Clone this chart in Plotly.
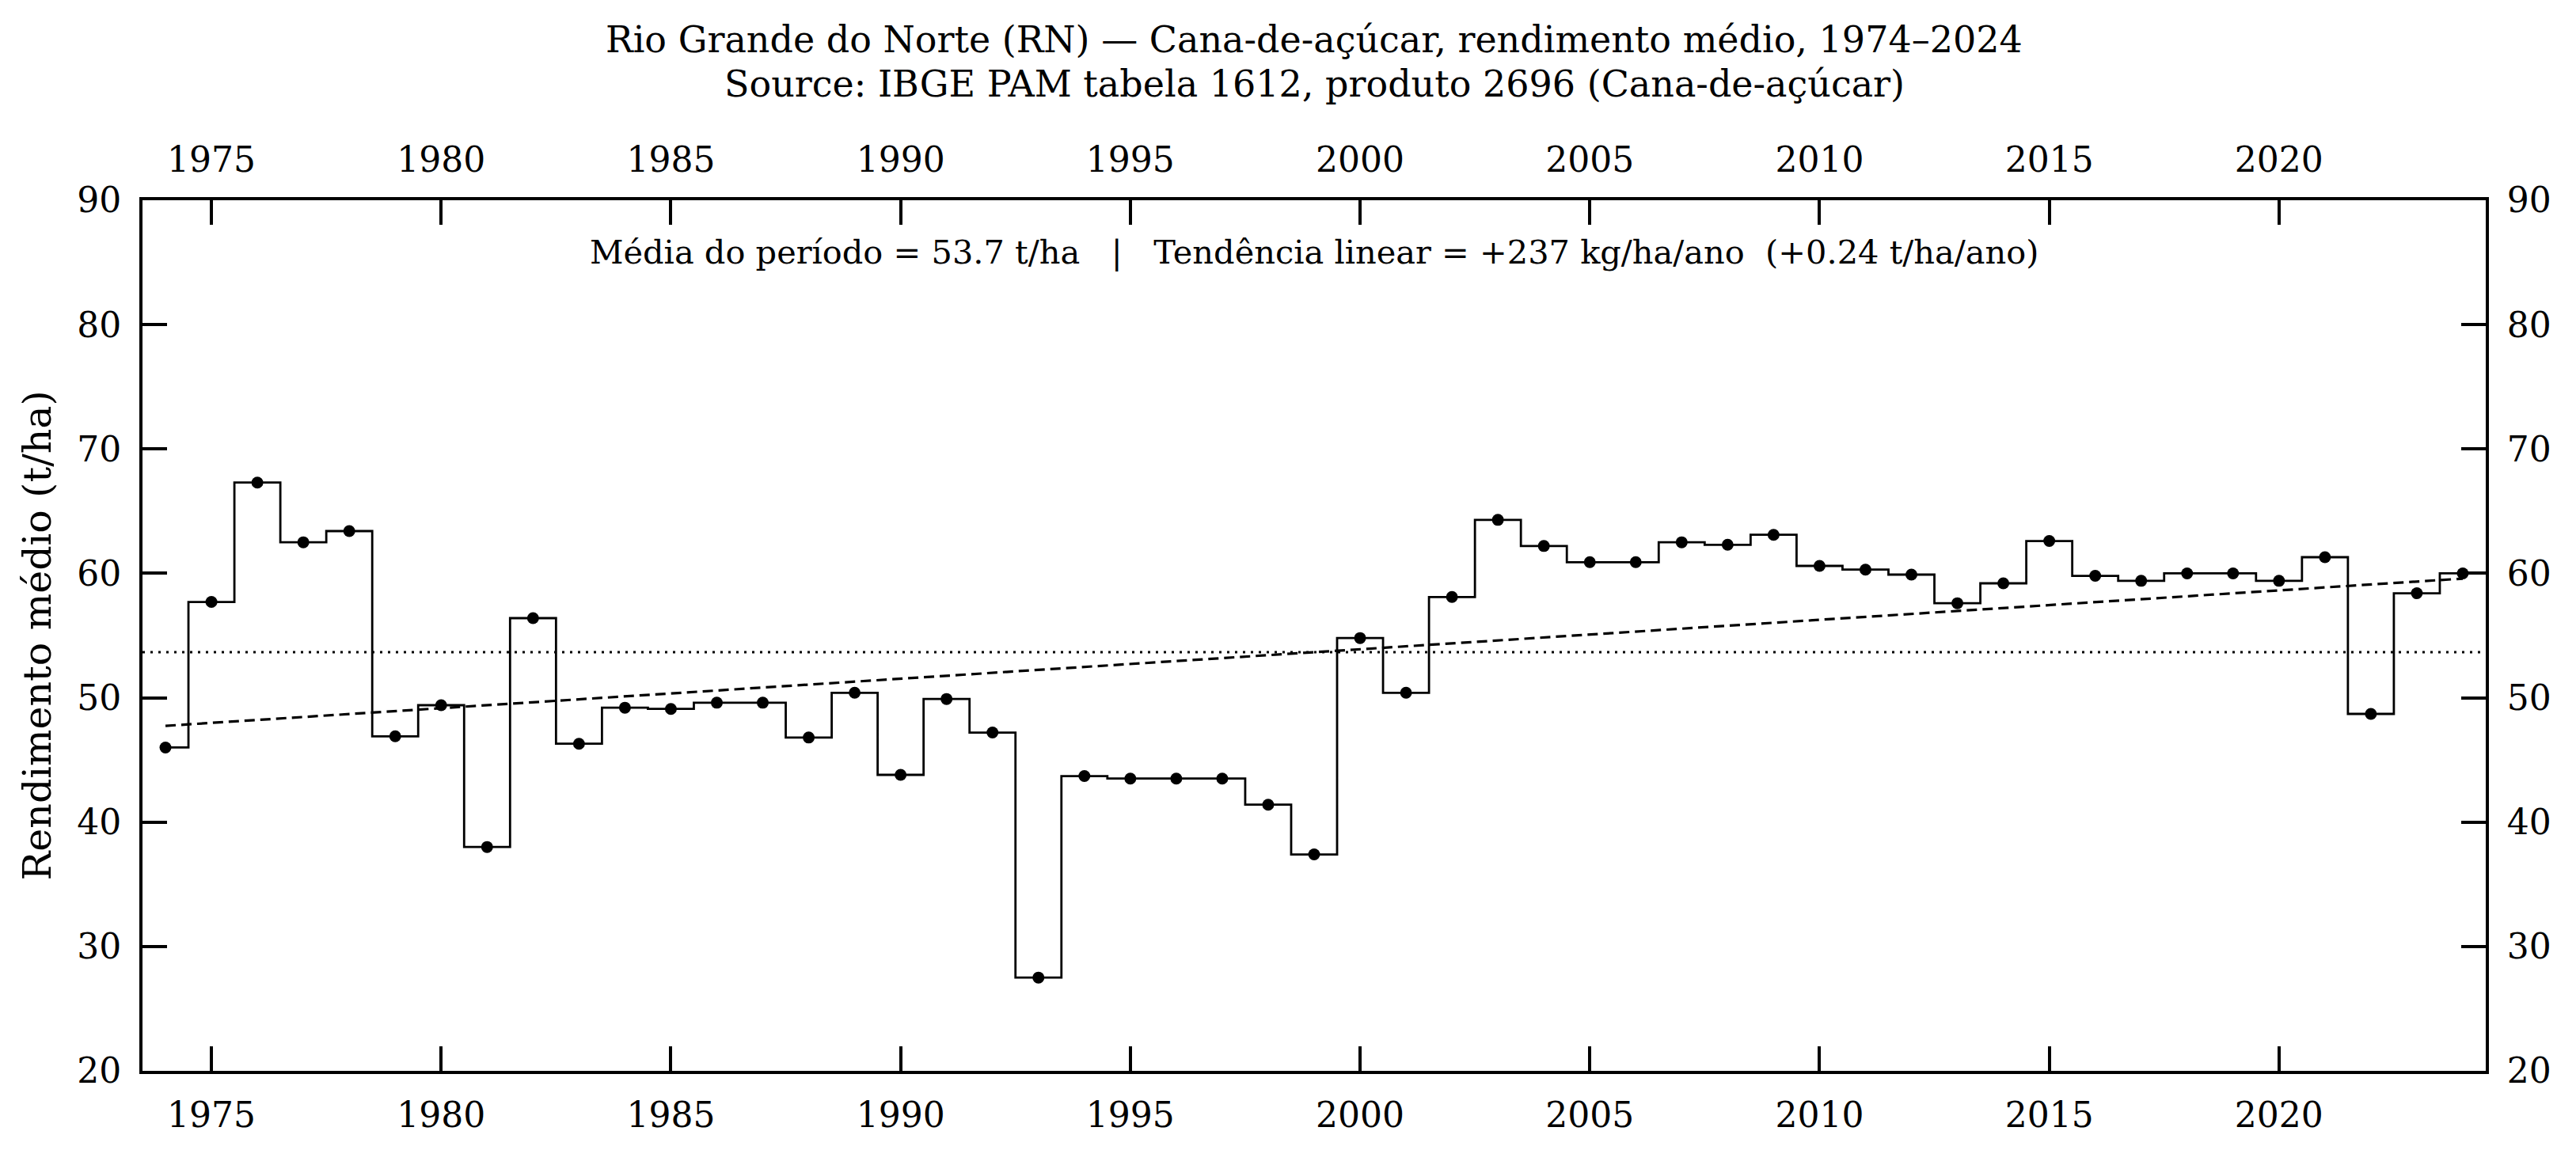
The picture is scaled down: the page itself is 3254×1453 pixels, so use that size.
import numpy as np
import plotly.graph_objects as go

years = list(range(1974, 2025))
rendimento = [
    46.0, 57.7, 67.3, 62.5, 63.4, 46.9, 49.4, 38.0, 56.4, 46.3,
    49.2, 49.1, 49.6, 49.6, 46.8, 50.4, 43.8, 49.9, 47.2, 27.5,
    43.7, 43.5, 43.5, 43.5, 41.4, 37.4, 54.8, 50.4, 58.1, 64.3,
    62.2, 60.9, 60.9, 62.5, 62.3, 63.1, 60.6, 60.3, 59.9, 57.6,
    59.2, 62.6, 59.8, 59.4, 60.0, 60.0, 59.4, 61.3, 48.7, 58.4, 60.0,
]
x_ticks = [1975, 1980, 1985, 1990, 1995, 2000, 2005, 2010, 2015, 2020]
y_ticks = [20, 30, 40, 50, 60, 70, 80, 90]

title_1 = "Rio Grande do Norte (RN) — Cana-de-açúcar, rendimento médio, 1974–2024"
title_2 = "Source: IBGE PAM tabela 1612, produto 2696 (Cana-de-açúcar)"
stats_text = "Média do período = 53.7 t/ha   |   Tendência linear = +237 kg/ha/ano  (+0.24 t/ha/ano)"
y_label = "Rendimento médio (t/ha)"

xa = np.array(years, dtype=float)
ya = np.array(rendimento, dtype=float)
mean_val = ya.mean()
slope, intercept = np.polyfit(xa, ya, 1)
trend = slope * xa + intercept

FONT = "DejaVu Serif"
X_RANGE = [1973.5, 2024.5]
Y_RANGE = [20, 90]

fig = go.Figure()

fig.add_trace(go.Scatter(
    x=[X_RANGE[0], X_RANGE[1]], y=[mean_val, mean_val], mode="lines",
    line=dict(color="black", width=3, dash="3px,7px"), showlegend=False, hoverinfo="skip"))
fig.add_trace(go.Scatter(
    x=years, y=trend, mode="lines",
    line=dict(color="black", width=3.2, dash="13px,7px"), showlegend=False, hoverinfo="skip"))
fig.add_trace(go.Scatter(
    x=years, y=rendimento, mode="lines", line_shape="hvh",
    line=dict(color="black", width=2.8), showlegend=False))
fig.add_trace(go.Scatter(
    x=years, y=rendimento, mode="markers",
    marker=dict(color="black", size=15), showlegend=False))

# ghost traces for top / right axes
fig.add_trace(go.Scatter(x=X_RANGE, y=Y_RANGE, xaxis="x2", yaxis="y2", mode="markers",
                         marker=dict(opacity=0), showlegend=False, hoverinfo="skip"))

axis_common = dict(
    showgrid=False, zeroline=False, showline=True, linecolor="black", linewidth=4,
    ticks="inside", ticklen=31, tickwidth=3.5, tickcolor="black",
    tickfont=dict(family=FONT, size=44, color="black"),
)

fig.update_layout(
    width=3254, height=1453,
    margin=dict(l=180, r=114, t=253, b=100),
    paper_bgcolor="white", plot_bgcolor="white",
    font=dict(family=FONT, color="black"),
    xaxis=dict(range=X_RANGE, tickvals=x_ticks, ticktext=[str(t) for t in x_ticks],
               side="bottom", ticklabelstandoff=14, **axis_common),
    yaxis=dict(range=Y_RANGE, tickvals=y_ticks, side="left", ticklabelstandoff=14,
               title=dict(text=y_label, font=dict(family=FONT, size=49), standoff=18),
               **axis_common),
    xaxis2=dict(range=X_RANGE, tickvals=x_ticks, ticktext=[str(t) for t in x_ticks],
                overlaying="x", side="top", anchor="y", ticklabelstandoff=14, **axis_common),
    yaxis2=dict(range=Y_RANGE, tickvals=y_ticks, overlaying="y", side="right", anchor="x",
                ticklabelstandoff=14, **axis_common),
    annotations=[
        dict(text=title_1, xref="paper", yref="paper", x=0.5, y=(1353 - 50) / 1100,
             xanchor="center", yanchor="middle", showarrow=False,
             font=dict(family=FONT, size=46)),
        dict(text=title_2, xref="paper", yref="paper", x=0.5, y=(1353 - 106) / 1100,
             xanchor="center", yanchor="middle", showarrow=False,
             font=dict(family=FONT, size=46)),
        dict(text=stats_text, xref="paper", yref="paper", x=0.5, y=(1353 - 318) / 1100,
             xanchor="center", yanchor="middle", showarrow=False,
             font=dict(family=FONT, size=41.5)),
    ],
)

fig.write_html("out.html")
